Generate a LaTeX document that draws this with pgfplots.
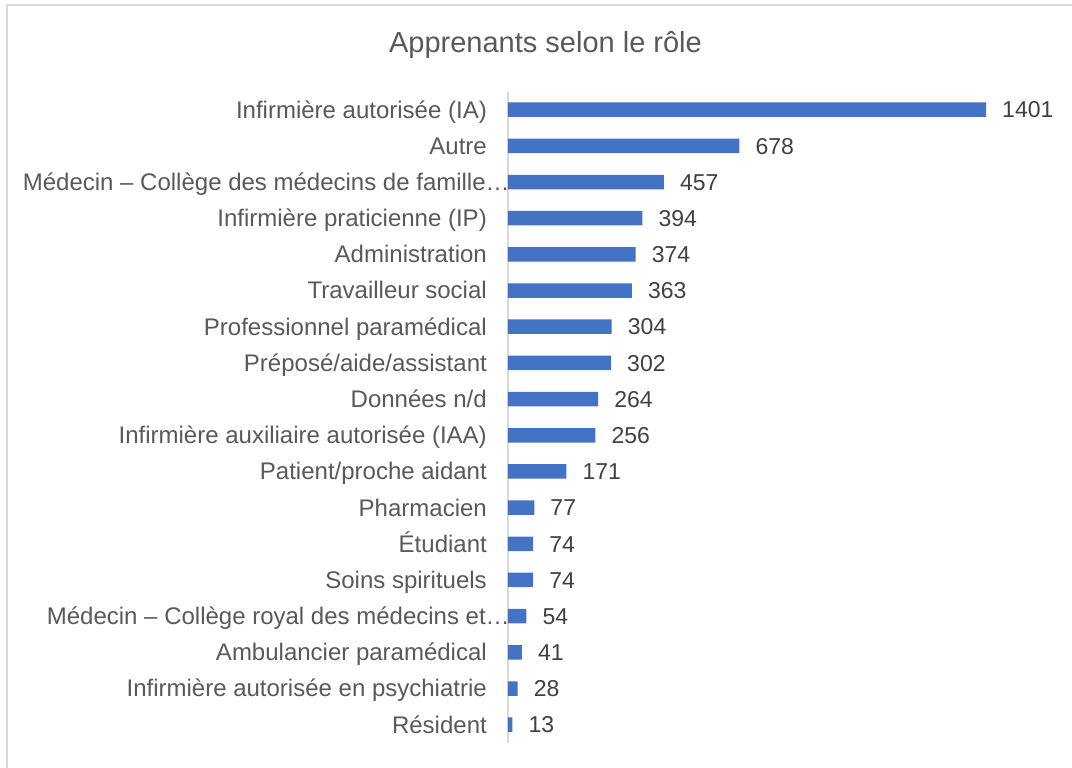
\documentclass[border=0pt]{standalone}
\usepackage{pgfplots}
\pgfplotsset{compat=1.18}
\usepackage{fontspec}
\setmainfont{Liberation Sans}
\definecolor{barblue}{HTML}{4472C4}
\definecolor{labgray}{HTML}{595959}
\definecolor{datgray}{HTML}{404040}
\definecolor{linegray}{HTML}{D9D9D9}
\begin{document}
\begin{tikzpicture}[x=1pt,y=1pt]
\useasboundingbox (0,0) rectangle (1072,768);
\draw[linegray, line width=1.3pt] (7,-10) -- (7,763) -- (1090,763);
\node[anchor=base, text=labgray, font=\fontsize{29}{34}\selectfont] at (545.5,715) {Apprenants selon le rôle};
\begin{axis}[
  at={(508pt,25.2pt)}, anchor=south west,
  scale only axis, width=532.3pt, height=651.2pt,
  xmin=0, xmax=1560, ymin=-0.5, ymax=17.5,
  enlargelimits=false,
  hide x axis,
  axis y line*=left,
  y axis line style={draw=linegray, line width=1.3pt, -},
  xtick=\empty,
  ytick={0,...,17},
  major tick length=0pt,
  yticklabels={Résident,
    Infirmière autorisée en psychiatrie,
    Ambulancier paramédical,
    Médecin – Collège royal des médecins et…\hspace*{-23pt},
    Soins spirituels,
    Étudiant,
    Pharmacien,
    Patient/proche aidant,
    Infirmière auxiliaire autorisée (IAA),
    Données n/d,
    Préposé/aide/assistant,
    Professionnel paramédical,
    Travailleur social,
    Administration,
    Infirmière praticienne (IP),
    Médecin – Collège des médecins de famille…\hspace*{-23pt},
    Autre,
    Infirmière autorisée (IA)},
  yticklabel style={anchor=base east, inner sep=0pt, xshift=-21pt, yshift=-8.4pt, text=labgray, font=\fontsize{24}{28}\selectfont},
  xbar, bar width=14.5pt,
  nodes near coords,
  nodes near coords style={anchor=base west, inner sep=0pt, xshift=16pt, yshift=-8.2pt, text=datgray, font=\fontsize{23}{27}\selectfont,
    /pgf/number format/assume math mode=true, /pgf/number format/1000 sep={}},
  clip=false,
]
\addplot[draw=none, fill=barblue] coordinates {
 (13,0) (28,1) (41,2) (54,3) (74,4) (74,5) (77,6) (171,7) (256,8) (264,9)
 (302,10) (304,11) (363,12) (374,13) (394,14) (457,15) (678,16) (1401,17)
};
\end{axis}
\end{tikzpicture}
\end{document}
